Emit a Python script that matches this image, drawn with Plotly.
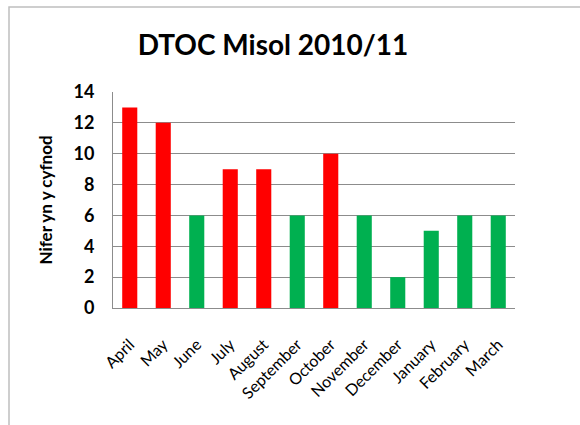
import plotly.graph_objects as go

months = ["April", "May", "June", "July", "August", "September", "October",
          "November", "December", "January", "February", "March"]
values = [13, 12, 6, 9, 9, 6, 10, 6, 2, 5, 6, 6]
status = ["red", "red", "green", "red", "red", "green", "red",
          "green", "green", "green", "green", "green"]
palette = {"red": "#FF0000", "green": "#00B050"}
y_ticks = [0, 2, 4, 6, 8, 10, 12, 14]

fig = go.Figure(go.Bar(
    x=months, y=values,
    marker=dict(color=[palette[s] for s in status], line=dict(width=0)),
    width=0.45,
))

FONT = "Lato, 'Open Sans', sans-serif"
fig.update_layout(
    width=580, height=425,
    margin=dict(l=113, r=65, t=92, b=117, autoexpand=False),
    paper_bgcolor="white", plot_bgcolor="white",
    showlegend=False,
    title=dict(text="<b>DTOC Misol 2010/11</b>", x=273/580, xanchor="center",
               y=1-45/425, yanchor="middle", automargin=False,
               font=dict(family=FONT, size=28, color="black")),
    font=dict(family=FONT, color="black"),
    bargap=0.55,
)
fig.update_yaxes(
    range=[0, 14], tickvals=y_ticks, ticktext=[f"<b>{v}</b>" for v in y_ticks],
    showgrid=True, gridcolor="#8C8C8C", gridwidth=1,
    showline=True, linecolor="#8C8C8C", linewidth=1, mirror=False,
    ticks="outside", ticklen=14, tickcolor="rgba(0,0,0,0)",
    tickfont=dict(family=FONT, size=18, color="black"),
    title=dict(text="<b>Nifer yn y cyfnod</b>", standoff=16,
               font=dict(family=FONT, size=17, color="black")),
    zeroline=False, fixedrange=True, automargin=False,
)
fig.update_xaxes(
    tickangle=-45, showline=True, linecolor="#8C8C8C", linewidth=1,
    ticks="outside", ticklen=20, tickcolor="rgba(0,0,0,0)",
    tickfont=dict(family=FONT, size=16, color="black"),
    showgrid=False, automargin=False, fixedrange=True,
)
# outer chart border
fig.add_shape(type="rect", xref="paper", yref="paper",
              x0=(9-113)/402, x1=1.3, y0=-0.8, y1=1+(92-7)/216,
              line=dict(color="#BFBFBF", width=1.5), layer="below")

fig.write_html("out.html", config={"displayModeBar": False},
               post_script="document.body.style.margin='0';")
